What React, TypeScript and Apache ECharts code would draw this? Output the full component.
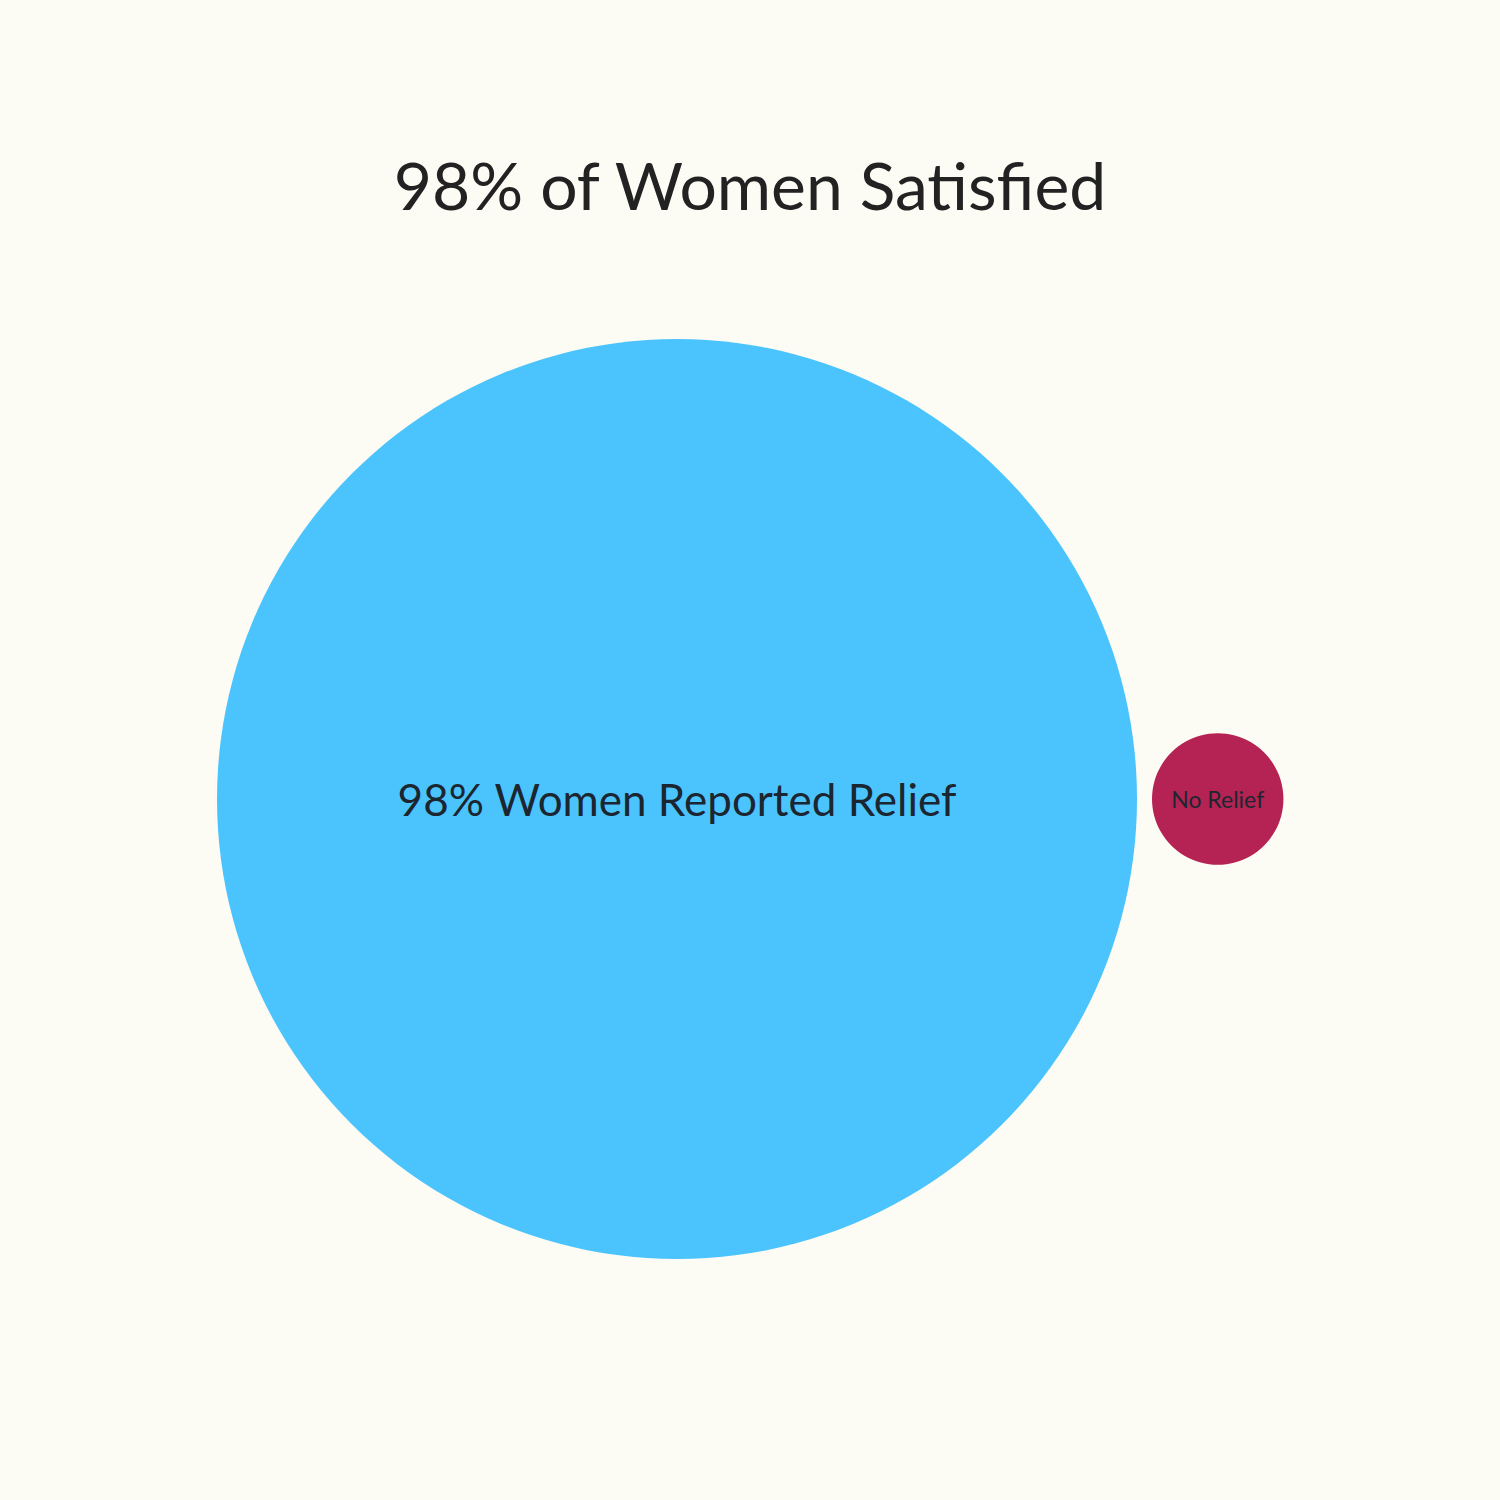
import React, { useEffect, useRef } from "react";
import * as echarts from "echarts";

const categories = ["98% Women Reported Relief", "No Relief"];
const values = [98, 2];
const colors = ["#4BC4FD", "#B42353"];
const labelSizes = [44, 23];
const titleText = "98% of Women Satisfied";

export default function App() {
  const ref = useRef<HTMLDivElement>(null);
  useEffect(() => {
    if (!ref.current) return;
    const chart = echarts.init(ref.current, undefined, { renderer: "svg" });
    const maxDiameter = 920;
    const k = maxDiameter / Math.sqrt(Math.max(...values));
    const diameters = values.map((v) => k * Math.sqrt(v));
    const startX = 217;
    const gap = 15;
    const centerY = 799;
    let cursor = startX;
    const data = values.map((v, i) => {
      const r = diameters[i] / 2;
      const cx = cursor + r;
      cursor = cursor + diameters[i] + gap;
      return {
        name: categories[i],
        value: [cx, centerY, v],
        symbolSize: diameters[i],
        itemStyle: { color: colors[i], opacity: 1 },
        label: { fontSize: labelSizes[i] },
      };
    });
    chart.setOption({
      animation: false,
      backgroundColor: "#FCFBF4",
      title: {
        text: titleText,
        left: "center",
        top: 146,
        textStyle: {
          fontFamily: "Lato, 'Noto Sans', sans-serif",
          fontWeight: "normal",
          fontSize: 66,
          color: "#222222",
        },
      },
      grid: { left: 0, right: 0, top: 0, bottom: 0 },
      xAxis: { type: "value", min: 0, max: 1500, show: false },
      yAxis: { type: "value", min: 0, max: 1500, inverse: true, show: false },
      series: [
        {
          type: "scatter",
          symbol: "circle",
          data,
          itemStyle: { opacity: 1 },
          label: {
            show: true,
            position: "inside",
            formatter: "{b}",
            color: "#1C2630",
            fontFamily: "Lato, 'Noto Sans', sans-serif",
          },
          emphasis: { disabled: true },
        },
      ],
    });
    return () => chart.dispose();
  }, []);
  return (
    <div
      ref={ref}
      style={{ position: "fixed", left: 0, top: 0, width: 1500, height: 1500 }}
    />
  );
}
